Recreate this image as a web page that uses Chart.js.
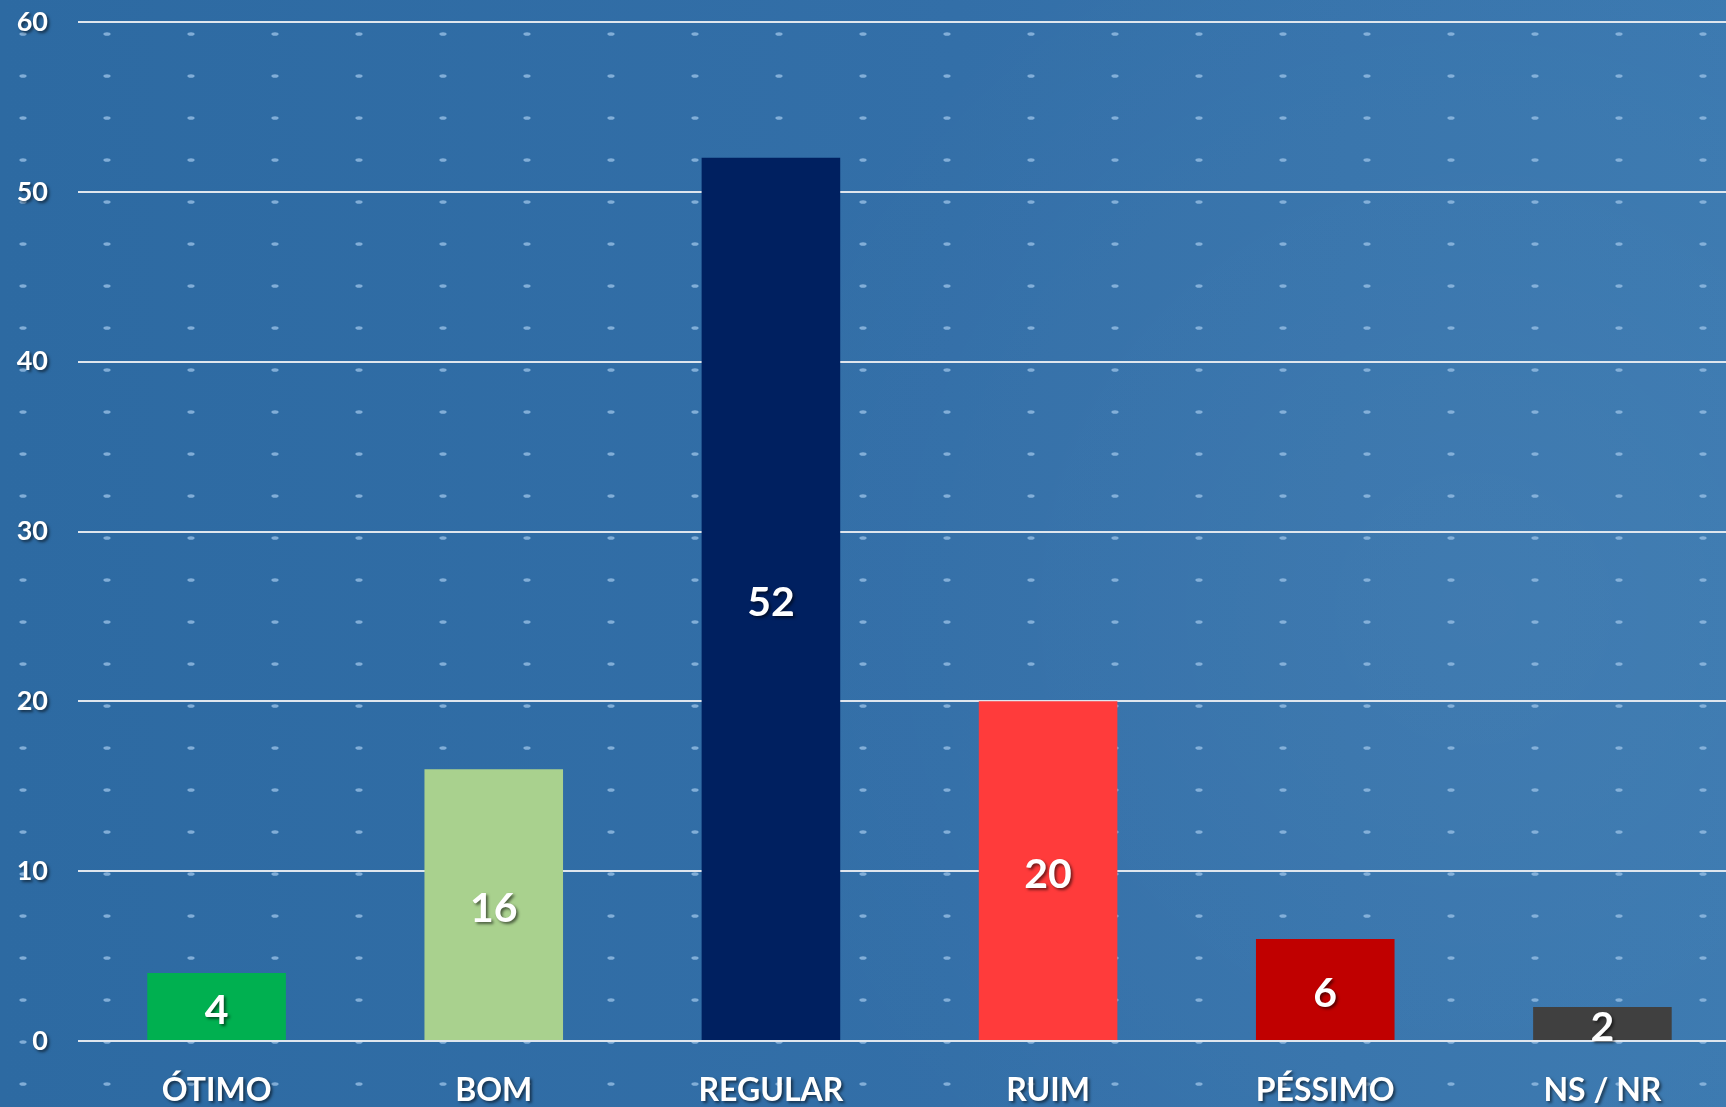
<!DOCTYPE html>
<html lang="pt">
<head>
<meta charset="utf-8">
<title>Avaliação</title>
<script src="https://cdn.jsdelivr.net/npm/chart.js@4.4.1/dist/chart.umd.min.js"></script>
<style>
  html, body {
    margin: 0;
    padding: 0;
    width: 1726px;
    height: 1107px;
    overflow: hidden;
    background: #3170a8;
  }
  .chart-wrap {
    position: relative;
    width: 1741px;
    height: 1107px;
  }
</style>
</head>
<body>
<div class="chart-wrap">
  <canvas id="ratingChart"></canvas>
</div>
<script>
// ============================================
// Data
// ============================================

const categories = ['ÓTIMO', 'BOM', 'REGULAR', 'RUIM', 'PÉSSIMO', 'NS / NR'];
const values = [4, 16, 52, 20, 6, 2];
const yMax = 60;
const yStep = 10;

const barColors = ['#00b050', '#a9d18e', '#002060', '#ff3b3b', '#c00000', '#404040'];
const FONT = 'Lato, "Open Sans", sans-serif';

// ============================================
// Plugins
// ============================================

// blue gradient + dotted pattern behind the plot
const backgroundPlugin = {
  id: 'slideBackground',
  beforeDraw(chart) {
    const ctx = chart.ctx;
    const w = chart.width;
    const h = chart.height;
    ctx.save();
    const grad = ctx.createLinearGradient(0, 0, w, 0);
    grad.addColorStop(0, '#2d6aa2');
    grad.addColorStop(0.55, '#336fa8');
    grad.addColorStop(1, '#3b79b0');
    ctx.fillStyle = grad;
    ctx.fillRect(0, 0, w, h);

    const glow = ctx.createRadialGradient(w * 0.85, h * 0.55, 10, w * 0.85, h * 0.55, w * 0.45);
    glow.addColorStop(0, 'rgba(255,255,255,0.04)');
    glow.addColorStop(1, 'rgba(255,255,255,0)');
    ctx.fillStyle = glow;
    ctx.fillRect(0, 0, w, h);

    ctx.fillStyle = 'rgba(150, 190, 228, 0.8)';
    for (let y = 34; y < h; y += 42) {
      for (let x = 23; x < w; x += 84) {
        ctx.beginPath();
        ctx.ellipse(x, y, 3.6, 1.8, 0, 0, Math.PI * 2);
        ctx.fill();
      }
    }
    ctx.restore();
  },
  afterDatasetsDraw(chart) {
    // tick labels are on a later layer (ticks.z = 1), give them the shadow
    const ctx = chart.ctx;
    ctx.shadowColor = 'rgba(0, 0, 0, 0.55)';
    ctx.shadowBlur = 3;
    ctx.shadowOffsetX = 2;
    ctx.shadowOffsetY = 2;
  },
  afterDraw(chart) {
    const ctx = chart.ctx;
    const meta = chart.getDatasetMeta(0);
    ctx.save();
    ctx.shadowColor = 'rgba(0, 0, 0, 0.55)';
    ctx.shadowBlur = 3;
    ctx.shadowOffsetX = 2;
    ctx.shadowOffsetY = 2;
    ctx.fillStyle = '#ffffff';
    ctx.font = 'bold 41px ' + FONT;
    ctx.textAlign = 'center';
    ctx.textBaseline = 'middle';
    meta.data.forEach((bar, i) => {
      const yMid = (bar.y + bar.base) / 2 + 4;
      ctx.fillText(String(values[i]), bar.x, yMid);
    });
    ctx.restore();
    ctx.shadowColor = 'rgba(0,0,0,0)';
    ctx.shadowBlur = 0;
    ctx.shadowOffsetX = 0;
    ctx.shadowOffsetY = 0;
  }
};

// ============================================
// Chart
// ============================================

function initializeChart() {
  const ctx = document.getElementById('ratingChart');
  new Chart(ctx, {
    type: 'bar',
    data: {
      labels: categories,
      datasets: [{
        data: values,
        backgroundColor: barColors,
        borderWidth: 0,
        barPercentage: 0.5,
        categoryPercentage: 1.0
      }]
    },
    options: {
      responsive: true,
      maintainAspectRatio: false,
      animation: false,
      layout: {
        padding: { top: 0, left: 0, right: 0, bottom: 0 }
      },
      plugins: {
        legend: { display: false },
        tooltip: { enabled: false }
      },
      scales: {
        x: {
          grid: { display: false, drawTicks: false },
          border: { display: false },
          ticks: {
            z: 1,
            color: '#ffffff',
            padding: 30,
            font: { family: FONT, size: 32, weight: 'bold' }
          },
          afterFit(scale) {
            scale.height = 66;
          }
        },
        y: {
          min: 0,
          max: yMax,
          grid: {
            color: '#dfe6ee',
            lineWidth: 2,
            drawTicks: false
          },
          border: { display: false },
          ticks: {
            z: 1,
            stepSize: yStep,
            color: '#ffffff',
            padding: 30,
            font: { family: FONT, size: 27, weight: 'bold' }
          },
          afterFit(scale) {
            scale.width = 78;
            scale.paddingTop = 22;
          }
        }
      }
    },
    plugins: [backgroundPlugin]
  });
}

document.addEventListener('DOMContentLoaded', () => {
  initializeChart();
});
</script>
</body>
</html>
